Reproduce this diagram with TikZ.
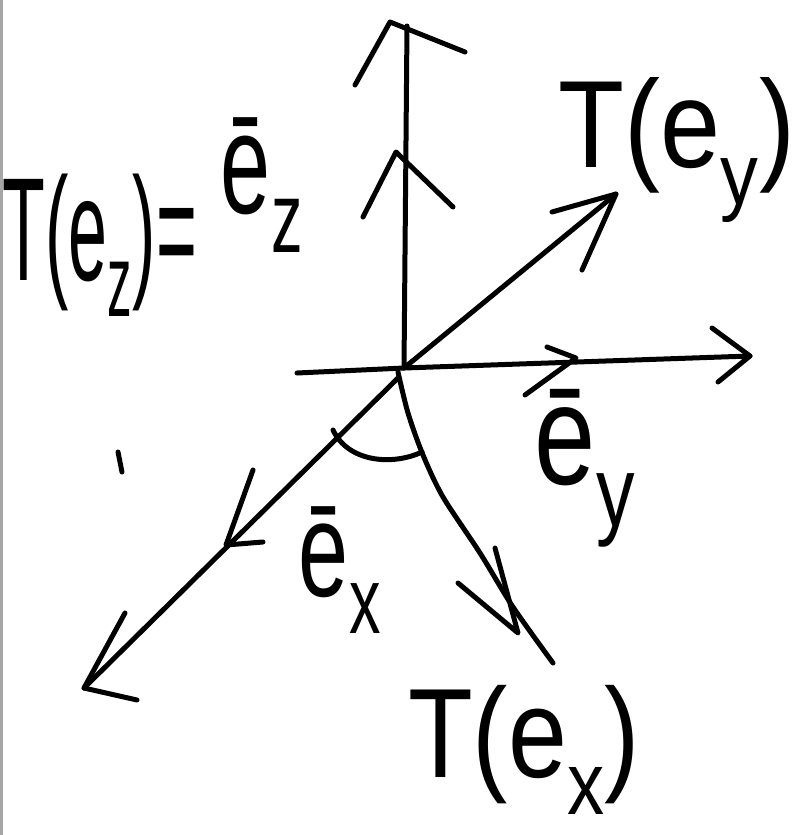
\documentclass[tikz,border=0pt]{standalone}
\usepackage{graphicx}
\usepackage{fontspec}
\setmainfont{Liberation Sans}
\begin{document}
\begin{tikzpicture}[x=1pt,y=-1pt,
  pen/.style={line width=5pt,line cap=round,line join=round},
  lbl/.style={inner sep=0pt,anchor=center}]
\useasboundingbox (0,0) rectangle (803,835);
\fill[white] (0,0) rectangle (803,835);
\draw[gray!70,line width=3pt] (1.5,0) -- (1.5,835);
% key points
\coordinate (O) at (404,368);
\coordinate (ztop) at (407,26);
\coordinate (zapex) at (390,22);
\coordinate (xleft) at (297,373);
\coordinate (yend) at (750,356);
\coordinate (tyend) at (616,194);
\coordinate (xend) at (84,688);
\coordinate (txend) at (553,663);
\coordinate (txapex) at (518,633);
% z axis
\draw[pen] (O) -- (ztop);
\draw[pen] (355,85) -- (zapex) -- (465,52);
% unit e_z
\draw[pen] (363,217) -- (396,152) -- (453,207);
% horizontal axis
\draw[pen] (xleft) -- (O) -- (yend);
\draw[pen] (712,328) -- (yend) -- (718,382);
% unit e_y
\draw[pen] (547,347) -- (576,358) -- (525,395);
% T(e_y)
\draw[pen] (O) -- (tyend);
\draw[pen] (552,212) -- (tyend) -- (582,270);
% diagonal (x axis)
\draw[pen] (398,378) -- (xend);
\draw[pen] (125,613) -- (xend) -- (137,700);
% unit e_x
\draw[pen] (253,470) -- (226,545) -- (263,542);
% T(e_x)
\draw[pen] plot[smooth] coordinates {(398,372) (408,413) (423,455) (443,497) (480,553) (513,607) (txend)};
\draw[pen] (495,548) -- (txapex) -- (458,583);
% angle arc
\draw[pen] (333,430) .. controls (348,462) and (392,466) .. (422,452);
% small tick
\draw[pen] (118,452) -- (122,472);
% labels
\node[lbl] (tez) at (100,245) {\scalebox{1}[2.1]{\fontsize{70}{70}\selectfont T(e\textsubscript{z})=}};
\node[lbl] (ez) at (262,185) {\scalebox{1}[1.6]{\fontsize{90}{90}\selectfont ē\textsubscript{z}}};
\node[lbl] (tey) at (677,150) {\scalebox{1}[1.15]{\fontsize{108}{108}\selectfont T(e\textsubscript{y})}};
\node[lbl] (ey) at (585,468) {\scalebox{1}[1.3]{\fontsize{110}{110}\selectfont ē\textsubscript{y}}};
\node[lbl] (ex) at (340,570) {\scalebox{1}[1.5]{\fontsize{90}{90}\selectfont ē\textsubscript{x}}};
\node[lbl] (tex) at (524,750) {\scalebox{1}[1.2]{\fontsize{106}{106}\selectfont T(e\textsubscript{x})}};
\end{tikzpicture}
\end{document}
